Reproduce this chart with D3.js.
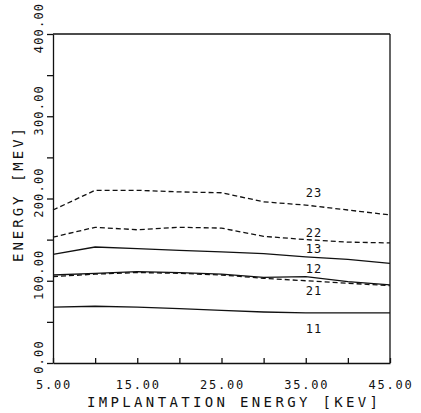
<!DOCTYPE html>
<html>
<head>
  <script src="https://d3js.org/d3.v7.min.js"></script>
  <style>
    body { margin: 0; background: #fff; }
    text { font-family: "DejaVu Sans Mono", monospace; fill: #111; }
    .axis path, .axis line { stroke: #111; stroke-width: 1.3; }
    .curve { fill: none; stroke: #111; stroke-width: 1.3; }
  </style>
</head>
<body>
  <svg id="chart"></svg>
  <script>
    // implantation energy (keV)
    var xValues = [5, 10, 15, 20, 25, 30, 35, 40, 45];

    var curveNames = ['11', '12', '13', '21', '22', '23'];
    var curveDashed = [false, false, false, true, true, true];
    var curve11 = [68, 69, 68, 66, 64, 62, 61, 61, 61];
    var curve12 = [107, 109, 111, 110, 108, 104, 105, 99, 95];
    var curve13 = [132, 141, 139, 137, 135, 133, 129, 126, 121];
    var curve21 = [105, 108, 110, 109, 107, 103, 100, 97, 94];
    var curve22 = [153, 165, 162, 165, 164, 154, 150, 147, 146];
    var curve23 = [186, 210, 210, 208, 207, 196, 192, 186, 180];
    var curves = [curve11, curve12, curve13, curve21, curve22, curve23];
    // where each curve label sits (energy units, at x = 35 keV)
    var labelY = [36, 109, 134, 83, 153, 202];

    var xTickLabels = ['5.00', '15.00', '25.00', '35.00', '45.00'];
    var yTickLabels = ['0.00', '100.00', '200.00', '300.00', '400.00'];

    var svgWidth = 421, svgHeight = 413;
    var plotLeft = 53, plotRight = 390, plotTop = 34, plotBottom = 363;

    var svg = d3.select('#chart')
      .attr('width', svgWidth)
      .attr('height', svgHeight);

    var x = d3.scaleLinear().domain([5, 45]).range([plotLeft, plotRight]);
    var y = d3.scaleLinear().domain([0, 400]).range([plotBottom, plotTop]);

    // bottom axis, ticks pointing inward
    svg.append('g')
      .attr('class', 'axis')
      .attr('transform', 'translate(0,' + plotBottom + ')')
      .call(d3.axisBottom(x).tickValues(d3.range(5, 46, 5)).tickSizeInner(-5).tickSizeOuter(0).tickFormat(''));

    // left axis, ticks outward
    svg.append('g')
      .attr('class', 'axis')
      .attr('transform', 'translate(' + plotLeft + ',0)')
      .call(d3.axisLeft(y).tickValues(d3.range(0, 401, 50)).tickSize(6).tickSizeOuter(0).tickFormat(''));

    // top and right frame
    svg.append('line').attr('x1', plotLeft).attr('x2', plotRight).attr('y1', plotTop).attr('y2', plotTop)
      .attr('stroke', '#111').attr('stroke-width', 1.3);
    svg.append('line').attr('x1', plotRight).attr('x2', plotRight).attr('y1', plotTop).attr('y2', plotBottom)
      .attr('stroke', '#111').attr('stroke-width', 1.3);

    // x tick labels
    svg.selectAll('.xlab')
      .data(xTickLabels)
      .enter().append('text')
      .attr('class', 'xlab')
      .attr('x', function(d) { return x(+d) + 1; })
      .attr('y', 389)
      .attr('text-anchor', 'middle')
      .style('font-size', '12px')
      .style('letter-spacing', '1.8px')
      .text(function(d) { return d; });

    // y tick labels, rotated
    svg.selectAll('.ylab')
      .data(yTickLabels)
      .enter().append('text')
      .attr('class', 'ylab')
      .attr('transform', function(d) { return 'translate(43,' + (y(+d) - 6) + ') rotate(-90)'; })
      .attr('text-anchor', 'middle')
      .style('font-size', '12px')
      .style('letter-spacing', '1.2px')
      .text(function(d) { return d; });

    // axis titles
    svg.append('text')
      .attr('x', 87).attr('y', 407)
      .attr('textLength', 291).attr('lengthAdjust', 'spacing')
      .style('font-size', '14px')
      .text('IMPLANTATION ENERGY [KEV]');

    svg.append('text')
      .attr('transform', 'translate(23,262) rotate(-90)')
      .attr('textLength', 134).attr('lengthAdjust', 'spacing')
      .style('font-size', '14px')
      .text('ENERGY [MEV]');

    var line = d3.line()
      .x(function(d, i) { return x(xValues[i]); })
      .y(function(d) { return y(d); });

    svg.selectAll('.curve')
      .data(curves)
      .enter().append('path')
      .attr('class', 'curve')
      .attr('stroke-dasharray', function(d, i) { return curveDashed[i] ? '5,3' : null; })
      .attr('d', line);

    svg.selectAll('.clab')
      .data(curveNames)
      .enter().append('text')
      .attr('class', 'clab')
      .attr('x', x(35))
      .attr('y', function(d, i) { return y(labelY[i]); })
      .style('font-size', '12px')
      .style('letter-spacing', '1px')
      .text(function(d) { return d; });
  </script>
</body>
</html>
